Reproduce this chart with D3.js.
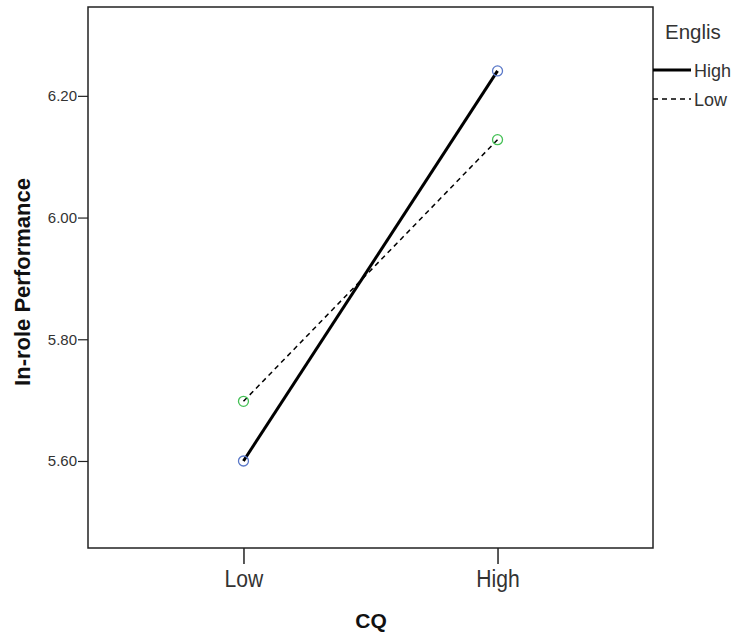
<!DOCTYPE html>
<html><head><meta charset="utf-8">
<script src="https://cdn.jsdelivr.net/npm/d3@7"></script>
<style>body{margin:0;background:#fff;}svg{display:block;}</style>
</head><body>
<script>
const categories = ["Low", "High"];
const seriesNames = ["High", "Low"];
const highValues = [5.600, 6.241];
const lowValues = [5.698, 6.128];
const yTicks = [5.60, 5.80, 6.00, 6.20];
const legendTitle = "Englis";

const W = 735, H = 633;
const pLeft = 88, pRight = 653, pTop = 7, pBottom = 548;
const FONT = "Liberation Sans, Arial, sans-serif";
const svg = d3.select("body").append("svg").attr("width", W).attr("height", H);

const x = d3.scalePoint().domain(categories).range([pLeft, pRight]).padding(0.612);
const y = d3.scaleLinear().domain([5.457, 6.346]).range([pBottom, pTop]);

// frame
svg.append("rect").attr("x", pLeft).attr("y", pTop).attr("width", pRight-pLeft).attr("height", pBottom-pTop)
  .attr("fill", "none").attr("stroke", "#222").attr("stroke-width", 1.5);

// y axis
const ya = svg.append("g").attr("transform", `translate(${pLeft},0)`)
  .call(d3.axisLeft(y).tickValues(yTicks).tickFormat(d3.format(".2f")).tickSize(10).tickPadding(1));
ya.select(".domain").remove();
ya.selectAll("line").attr("stroke", "#222").attr("stroke-width", 1.2);
ya.selectAll("text").attr("font-family", FONT).attr("font-size", 15).attr("fill", "#333");

// x axis
const xa = svg.append("g").attr("transform", `translate(0,${pBottom})`)
  .call(d3.axisBottom(x).tickSize(16).tickPadding(6));
xa.select(".domain").remove();
xa.selectAll("line").attr("stroke", "#222").attr("stroke-width", 1.5);
xa.selectAll("text").attr("font-family", FONT).attr("font-size", 24).attr("fill", "#333")
  .attr("transform", "scale(0.88,1)");

// axis titles
svg.append("text").attr("transform", `translate(30,${282}) rotate(-90)`)
  .attr("text-anchor", "middle").attr("font-family", FONT)
  .attr("font-weight", "bold").attr("font-size", 22).attr("fill", "#111").text("In-role Performance");
svg.append("text").attr("x", 371).attr("y", 628)
  .attr("text-anchor", "middle").attr("font-family", FONT)
  .attr("font-weight", "bold").attr("font-size", 21).attr("fill", "#111").text("CQ");

const series = [
  {name: seriesNames[0], values: highValues, width: 3, dash: null, color: "#5a78c8"},
  {name: seriesNames[1], values: lowValues, width: 1.5, dash: "5,4", color: "#44c055"}
];
const line = d3.line().x((d,i) => x(categories[i])).y(d => y(d));
series.forEach(s => {
  svg.append("path").datum(s.values).attr("d", line).attr("fill", "none")
    .attr("stroke", "#000").attr("stroke-width", s.width).attr("stroke-dasharray", s.dash);
  svg.selectAll(null).data(s.values).enter().append("circle")
    .attr("cx", (d,i) => x(categories[i])).attr("cy", d => y(d)).attr("r", 5)
    .attr("fill", "none").attr("stroke", s.color).attr("stroke-width", 1.3);
});

// legend
svg.append("text").attr("x", 665).attr("y", 39).attr("font-family", FONT)
  .attr("font-size", 20.5).attr("fill", "#333").text(legendTitle);
series.forEach((s, i) => {
  const ly = 70 + i*29;
  svg.append("line").attr("x1", pRight).attr("x2", 691).attr("y1", ly).attr("y2", ly)
    .attr("stroke", "#000").attr("stroke-width", s.width).attr("stroke-dasharray", s.dash);
  svg.append("text").attr("x", 694).attr("y", ly + 7).attr("font-family", FONT)
    .attr("font-size", 18).attr("fill", "#333").text(s.name);
});
</script>
</body></html>
